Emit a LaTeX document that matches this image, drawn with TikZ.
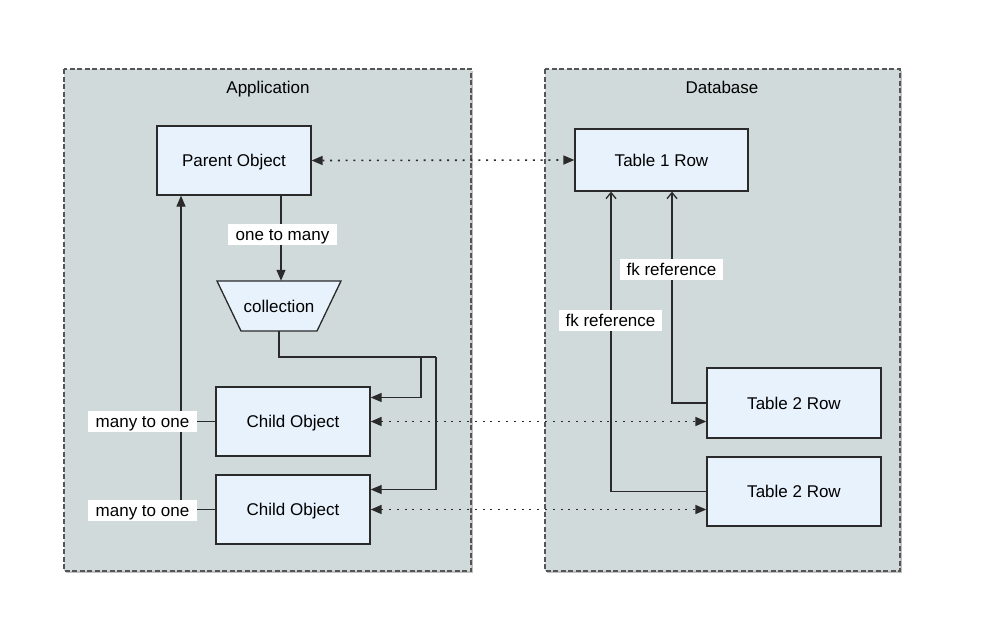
\documentclass[tikz,border=0pt]{standalone}
\usepackage{fontspec}
\setmainfont{Liberation Sans}
\usetikzlibrary{arrows.meta}
\definecolor{contfill}{HTML}{D0DADA}
\definecolor{nodefill}{HTML}{E8F2FC}
\definecolor{edgecol}{HTML}{2A2A2A}
\definecolor{contborder}{HTML}{555555}
\begin{document}
\begin{tikzpicture}[x=1pt,y=-1pt,
  font=\fontsize{17}{20}\selectfont,
  every node/.style={text height=13.5pt,text depth=1.5pt},
  container/.style={draw=contborder,fill=contfill,line width=1.6pt,dash pattern=on 5pt off 2.5pt},
  shadowbox/.style={fill=black!25,draw=none},
  objbox/.style={draw=edgecol,fill=nodefill,line width=1.3pt,inner sep=0pt},
  lbl/.style={fill=white,inner sep=0pt,minimum height=21pt},
  arr/.style={draw=edgecol,line width=1.3pt,-{Triangle[length=11pt,width=9pt]}},
  darr/.style={draw=edgecol,line width=1.6pt,dash pattern=on 2pt off 5.8pt,
     {Triangle[length=11pt,width=9pt]}-{Triangle[length=11pt,width=9pt]}},
  fkarr/.style={draw=edgecol,line width=1.3pt,-{Straight Barb[length=6pt,width=10pt]}},
  plain/.style={draw=edgecol,line width=1.3pt}]
\useasboundingbox (0,0) rectangle (1000,640);
% containers
\fill[shadowbox] (66,71) rectangle (473,573);
\fill[shadowbox] (547,71) rectangle (902,573);
\draw[container] (64,69) rectangle (471,571);
\draw[container] (545,69) rectangle (900,571);
\node (applbl) at (268,87) {Application};
\node (dblbl) at (722,87) {Database};
% objects
\node[objbox,minimum width=154pt,minimum height=69pt] (parent) at (234,160.5) {Parent Object};
\draw[objbox] (217,281) -- (341,281) -- (317,331) -- (241,331) -- cycle;
\node[inner sep=0pt,minimum width=124pt,minimum height=50pt] (coll) at (279,306) {collection};
\node[objbox,minimum width=154pt,minimum height=69pt] (child1) at (293,421.5) {Child Object};
\node[objbox,minimum width=154pt,minimum height=69pt] (child2) at (293,509.5) {Child Object};
\node[objbox,minimum width=173pt,minimum height=62pt] (t1) at (661.5,160) {Table 1 Row};
\node[objbox,minimum width=174pt,minimum height=70pt] (t2a) at (794,403) {Table 2 Row};
\node[objbox,minimum width=174pt,minimum height=69pt] (t2b) at (794,491.5) {Table 2 Row};
% junctions
\coordinate (j1) at (421,357);
\coordinate (j2) at (436,357);
\coordinate (m1) at (181,421.5);
\coordinate (m2) at (181,509.5);
% parent -> collection
\draw[arr] ([xshift=2pt]coll.north |- parent.south) -- ([xshift=2pt]coll.north);
% collection -> children
\draw[plain] (coll.south) |- (j2);
\draw[arr] (j1) |- ([yshift=24pt]child1.east);
\draw[arr] (j2) |- ([yshift=20pt]child2.east);
% children -> parent
\draw[plain] (child2.west) -- (m2) -- (m1);
\draw[arr] (child1.west) -- (m1) -- (parent.south -| m1);
% dotted mappings
\draw[darr] (parent.east) -- (t1.west);
\draw[darr] (child1.east) -- (child1.east -| t2a.west);
\draw[darr] (child2.east) -- (child2.east -| t2b.west);
% fk references
\draw[fkarr] (t2a.west) -| ([xshift=10.5pt]t1.south);
\draw[fkarr] (t2b.west) -| ([xshift=-50.5pt]t1.south);
% labels
\node[lbl,minimum width=109pt] (l1) at (282.5,234) {one to many};
\node[lbl,minimum width=109pt] (l2) at (142.5,421.5) {many to one};
\node[lbl,minimum width=109pt] (l3) at (142.5,510) {many to one};
\node[lbl,minimum width=103pt] (l4) at (671.5,269.5) {fk reference};
\node[lbl,minimum width=103pt] (l5) at (610.5,320) {fk reference};
\end{tikzpicture}
\end{document}
